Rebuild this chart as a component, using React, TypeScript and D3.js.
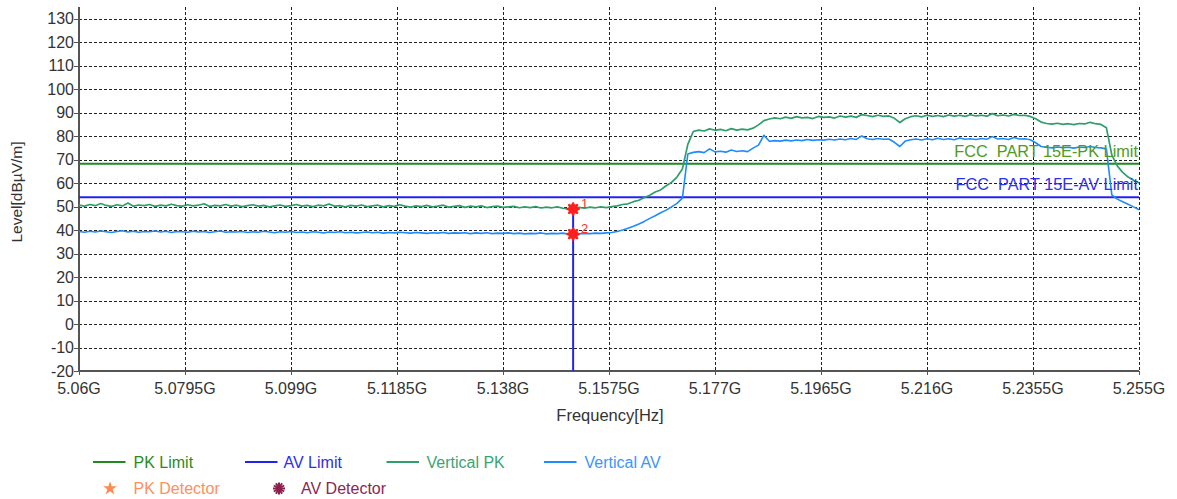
import React from "react";
import * as d3 from "d3";

// Sweep grid, MHz (1 MHz steps across 5.06–5.255 GHz)
const FREQ_MHZ: number[] = d3.range(5060, 5256, 1);

// Vertical polarisation, peak detector, dBµV/m
const VERTICAL_PK: number[] = [
  50.6, 50.2, 50.9, 50.4, 51.3, 50.5, 50.1, 50.8, 50.3, 51.5,
  50.2, 50.7, 50.4, 50.9, 50.1, 50.6, 50.3, 51.0, 50.4, 50.2,
  50.8, 50.3, 50.6, 51.2, 50.1, 50.5, 50.3, 50.9, 50.2, 50.6,
  50.0, 50.4, 50.8, 50.2, 50.5, 49.9, 50.3, 50.7, 50.1, 50.4,
  50.9, 50.2, 50.5, 50.0, 50.6, 50.3, 51.1, 50.2, 50.4, 49.9,
  50.5, 50.2, 50.7, 50.0, 50.3, 50.6, 49.9, 50.4, 50.1, 50.8,
  50.2, 49.8, 50.3, 50.0, 50.5, 49.9, 50.2, 50.6, 49.8, 50.1,
  50.4, 49.7, 50.2, 49.9, 50.3, 49.6, 50.0, 50.2, 49.7, 49.9,
  50.1, 49.5, 49.9, 49.6, 50.0, 49.4, 49.8, 49.5, 49.9, 49.3,
  49.0, 49.4, 49.7, 49.3, 49.8, 49.5, 49.9, 49.6, 50.0, 50.3,
  50.9, 51.2, 52.1, 52.7, 53.9, 54.8, 56.2, 57.1, 58.9, 60.3,
  62.6, 66.0, 76.5, 82.0, 82.6, 82.2, 83.1, 82.5, 82.9, 82.3,
  83.2, 82.6, 83.0, 82.7, 83.4, 84.8, 86.6, 87.3, 87.8, 87.4,
  88.1, 87.6, 88.3, 87.8, 88.0, 87.5, 88.4, 88.0, 88.2, 87.7,
  88.6, 88.1, 88.5, 88.0, 89.2, 88.8, 88.3, 88.9, 88.4, 88.6,
  87.6, 85.8, 87.4, 88.3, 88.7, 88.2, 88.9, 88.4, 88.8, 88.3,
  89.0, 88.5, 88.9, 88.4, 89.1, 88.6, 88.9, 88.5, 89.6, 88.7,
  89.0, 88.6, 89.3, 88.8, 88.9, 88.4, 87.4, 86.0, 85.4, 85.1,
  85.5, 85.0, 85.3, 84.9, 85.4, 85.2, 85.9, 85.3, 85.0, 83.6,
  72.0, 67.3, 64.6, 62.6, 61.2, 60.1,
];

// Vertical polarisation, average detector, dBµV/m
const VERTICAL_AV: number[] = [
  39.4, 39.1, 39.5, 39.2, 39.6, 39.3, 39.0, 39.4, 39.7, 39.2,
  39.5, 39.1, 39.4, 39.3, 39.6, 39.2, 39.5, 39.0, 39.4, 39.3,
  39.1, 39.5, 39.2, 39.4, 39.0, 39.3, 39.6, 39.1, 39.3, 39.2,
  39.4, 39.0, 39.3, 39.1, 39.5, 39.2, 38.9, 39.3, 39.1, 39.4,
  39.0, 39.2, 38.9, 39.3, 39.1, 38.8, 39.2, 39.0, 39.3, 38.9,
  39.1, 38.8, 39.0, 39.2, 38.9, 39.1, 38.7, 39.0, 38.8, 39.1,
  38.9, 38.7, 39.0, 38.8, 38.6, 38.9, 38.7, 39.0, 38.6, 38.8,
  38.7, 38.9, 38.5, 38.8, 38.6, 38.9, 38.5, 38.7, 38.6, 38.8,
  38.5, 38.7, 38.4, 38.6, 38.5, 38.8, 38.4, 38.6, 38.5, 38.7,
  38.3, 38.5, 38.4, 38.6, 38.5, 38.7, 38.6, 38.8, 39.0, 39.4,
  40.0, 40.8, 41.6, 42.6, 43.7, 45.0, 46.1, 47.4, 48.5, 49.9,
  51.4, 53.6, 72.4, 73.1, 73.4, 73.0, 74.6, 73.3, 73.6, 73.2,
  74.1, 73.5, 73.8, 73.4, 74.9, 76.2, 80.4, 77.8, 78.1, 77.9,
  78.3, 78.0, 78.4, 78.1, 78.6, 78.2, 78.5, 78.3, 78.7, 78.4,
  78.8, 78.5, 79.0, 78.6, 80.1, 78.9, 78.6, 79.0, 78.7, 78.8,
  77.4, 75.6, 77.9, 78.5, 78.8, 78.4, 78.9, 78.5, 79.1, 78.6,
  78.9, 78.5, 79.2, 78.7, 78.9, 78.6, 79.0, 78.7, 79.8, 78.8,
  79.0, 78.6, 79.4, 78.8, 78.9, 78.5, 77.2, 75.6, 75.3, 75.0,
  75.4, 75.1, 75.3, 74.9, 75.4, 75.2, 75.6, 75.2, 75.0, 74.6,
  55.0, 53.2, 52.1, 51.0, 49.9, 48.7,
];

// Limits, dBµV/m
const PK_LIMIT = 68.2;
const AV_LIMIT = 54;

// Marker readings
const MARKER_FREQ: number[] = [5150.9, 5150.9];
const MARKER_LEVEL: number[] = [49.0, 38.3];
const MARKER_LABEL: string[] = ["1", "2"];

// Axis ticks
const X_TICKS: number[] = [5060, 5079.5, 5099, 5118.5, 5138, 5157.5, 5177, 5196.5, 5216, 5235.5, 5255];
const X_TICK_LABELS: string[] = [
  "5.06G", "5.0795G", "5.099G", "5.1185G", "5.138G", "5.1575G",
  "5.177G", "5.1965G", "5.216G", "5.2355G", "5.255G",
];
const Y_TICKS: number[] = [-20, -10, 0, 10, 20, 30, 40, 50, 60, 70, 80, 90, 100, 110, 120, 130];

const COLORS = {
  pkLimit: "#1f8a1f",
  avLimit: "#2323f0",
  vPK: "#2f9e6c",
  vAV: "#1e8cff",
  pkDet: "#ff8a50",
  avDet: "#8b1f4f",
  marker: "#ff1f1f",
  axis: "#555",
  grid: "#222",
  text: "#333",
};

const FONT = "Arial, 'Liberation Sans', sans-serif";

const W = 1177;
const H = 499;
const PLOT = { left: 79, right: 1139, top: 7, bottom: 371 };

export default function App() {
  const x = d3.scaleLinear().domain([5060, 5255]).range([PLOT.left, PLOT.right]);
  const y = d3.scaleLinear().domain([-20, 135]).range([PLOT.bottom, PLOT.top]);

  const line = d3
    .line<number>()
    .x((_, i) => x(FREQ_MHZ[i]))
    .y((d) => y(d));

  const legendRow1 = [
    { label: "PK Limit", color: COLORS.pkLimit, text: "#2b8a1f", x: 93, tx: 133.5 },
    { label: "AV Limit", color: COLORS.avLimit, text: "#2d2df0", x: 245, tx: 283.5 },
    { label: "Vertical PK", color: COLORS.vPK, text: "#3ba373", x: 386.5, tx: 426.5 },
    { label: "Vertical AV", color: COLORS.vAV, text: "#3a96ff", x: 544, tx: 584.5 },
  ];

  const star = d3.symbol(d3.symbolStar, 60)() as string;

  return (
    <svg
      width={W}
      height={H}
      style={{ position: "absolute", left: 0, top: 0, background: "#fff" }}
      fontFamily={FONT}
    >
      <rect x={0} y={0} width={W} height={H} fill="#fff" />

      {/* grid */}
      <g stroke={COLORS.grid} strokeWidth={1} strokeDasharray="3,2" shapeRendering="crispEdges">
        {Y_TICKS.map((t) => (
          <line key={"gy" + t} x1={PLOT.left} x2={PLOT.right} y1={Math.round(y(t)) + 0.5} y2={Math.round(y(t)) + 0.5} />
        ))}
        {X_TICKS.slice(1).map((t) => (
          <line key={"gx" + t} x1={Math.round(x(t)) + 0.5} x2={Math.round(x(t)) + 0.5} y1={PLOT.top} y2={PLOT.bottom} />
        ))}
      </g>

      {/* axes */}
      <g stroke={COLORS.axis} strokeWidth={1.5} shapeRendering="crispEdges">
        <line x1={PLOT.left} x2={PLOT.left} y1={PLOT.top} y2={PLOT.bottom} />
        <line x1={PLOT.left} x2={PLOT.right} y1={PLOT.bottom} y2={PLOT.bottom} />
        {Y_TICKS.map((t) => (
          <line key={"ty" + t} x1={PLOT.left - 5} x2={PLOT.left} y1={Math.round(y(t)) + 0.5} y2={Math.round(y(t)) + 0.5} />
        ))}
        {X_TICKS.map((t) => (
          <line key={"tx" + t} x1={Math.round(x(t)) + 0.5} x2={Math.round(x(t)) + 0.5} y1={PLOT.bottom} y2={PLOT.bottom + 4} />
        ))}
      </g>

      {/* tick labels */}
      <g fill={COLORS.text} fontSize={16}>
        {Y_TICKS.map((t) => (
          <text key={"ly" + t} x={PLOT.left - 5} y={y(t)} textAnchor="end" dominantBaseline="central">
            {t}
          </text>
        ))}
        {X_TICKS.map((t, i) => (
          <text key={"lx" + t} x={x(t)} y={394} textAnchor="middle">
            {X_TICK_LABELS[i]}
          </text>
        ))}
      </g>

      {/* axis titles */}
      <text x={610} y={421} textAnchor="middle" fontSize={16.5} fill={COLORS.text}>
        Frequency[Hz]
      </text>
      <text
        transform={`translate(22,${192}) rotate(-90)`}
        textAnchor="middle"
        fontSize={15.5}
        fill={COLORS.text}
      >
        Level[dBµV/m]
      </text>

      {/* limits */}
      <line x1={PLOT.left} x2={PLOT.right} y1={y(PK_LIMIT)} y2={y(PK_LIMIT)} stroke={COLORS.pkLimit} strokeWidth={2} />
      <line x1={PLOT.left} x2={PLOT.right} y1={y(AV_LIMIT)} y2={y(AV_LIMIT)} stroke={COLORS.avLimit} strokeWidth={2} />

      {/* traces */}
      <path d={line(VERTICAL_PK) ?? ""} fill="none" stroke={COLORS.vPK} strokeWidth={1.7} strokeLinejoin="round" />
      <path d={line(VERTICAL_AV) ?? ""} fill="none" stroke={COLORS.vAV} strokeWidth={1.6} strokeLinejoin="round" />

      {/* limit captions */}
      <text x={1138} y={157} textAnchor="end" fontSize={16.3} fill="#509a22" style={{ whiteSpace: "pre" }}>
        {"FCC\u00A0\u00A0PART 15E-PK Limit"}
      </text>
      <text x={1138} y={190} textAnchor="end" fontSize={16.3} fill="#3030f4" style={{ whiteSpace: "pre" }}>
        {"FCC\u00A0\u00A0PART 15E-AV Limit"}
      </text>

      {/* marker drop line */}
      <line
        x1={x(MARKER_FREQ[0])}
        x2={x(MARKER_FREQ[0])}
        y1={y(MARKER_LEVEL[0])}
        y2={PLOT.bottom}
        stroke={COLORS.avLimit}
        strokeWidth={2}
      />

      {/* markers */}
      {MARKER_FREQ.map((f, i) => {
        const cx = x(f);
        const cy = y(MARKER_LEVEL[i]);
        return (
          <g key={"m" + i}>
            <circle cx={cx} cy={cy} r={5} fill={COLORS.marker} />
            <g stroke={COLORS.marker} strokeWidth={2.6} strokeLinecap="round">
              {[0, 45, 90, 135].map((a) => {
                const r = (a * Math.PI) / 180;
                return (
                  <line
                    key={a}
                    x1={cx - Math.cos(r) * 5.5}
                    y1={cy - Math.sin(r) * 5.5}
                    x2={cx + Math.cos(r) * 5.5}
                    y2={cy + Math.sin(r) * 5.5}
                  />
                );
              })}
            </g>
            <text x={cx + 8} y={cy - 1} fontSize={13} fill="#ff3030">
              {MARKER_LABEL[i]}
            </text>
          </g>
        );
      })}

      {/* legend */}
      <g fontSize={16}>
        {legendRow1.map((l) => (
          <g key={l.label}>
            <line x1={l.x} x2={l.x + 32.5} y1={462} y2={462} stroke={l.color} strokeWidth={2} />
            <text x={l.tx} y={468} fill={l.text}>
              {l.label}
            </text>
          </g>
        ))}
        <path d={star} transform="translate(110,488.5)" fill={COLORS.pkDet} />
        <text x={133.5} y={494} fill="#ff8f5e">
          PK Detector
        </text>
        <g transform="translate(279,488.5)" stroke={COLORS.avDet} strokeWidth={2}>
          {[0, 30, 60, 90, 120, 150].map((a) => {
            const r = (a * Math.PI) / 180;
            return (
              <line
                key={a}
                x1={-Math.cos(r) * 6}
                y1={-Math.sin(r) * 6}
                x2={Math.cos(r) * 6}
                y2={Math.sin(r) * 6}
              />
            );
          })}
        </g>
        <text x={301} y={494} fill="#8a2755">
          AV Detector
        </text>
      </g>
    </svg>
  );
}
